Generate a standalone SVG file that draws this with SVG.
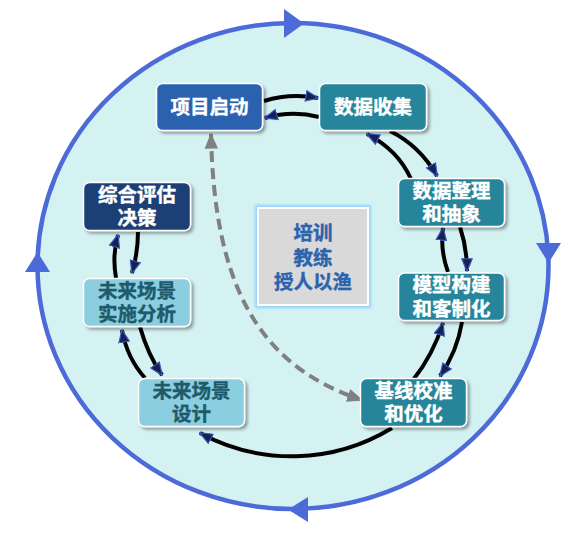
<svg xmlns="http://www.w3.org/2000/svg" width="588" height="533" viewBox="0 0 588 533">
<style>
.node rect{stroke:#ffffff;stroke-width:1.5}
.t{font-family:"Liberation Sans","Noto Sans CJK SC",sans-serif;font-weight:bold;font-size:19.5px;text-anchor:middle;stroke-width:0.4}
.w{fill:#ffffff;stroke:#ffffff}
.d{fill:#1F5A6C;stroke:#1F5A6C}
.c{fill:#2B63AE;stroke:#2B63AE}
.flow{fill:none;stroke:#000000;stroke-width:4;marker-end:url(#ah)}
.dash{fill:none;stroke:#808080;stroke-width:4;stroke-dasharray:11 6;marker-start:url(#gh);marker-end:url(#gh)}
</style>
<defs>
<filter id="sh" x="-10%" y="-10%" width="130%" height="140%">
<feDropShadow dx="2.5" dy="2.5" stdDeviation="1.5" flood-color="#000000" flood-opacity="0.35"/>
</filter>
<filter id="glow" x="-15%" y="-15%" width="130%" height="130%">
<feMorphology in="SourceAlpha" operator="dilate" radius="2" result="d"/>
<feGaussianBlur in="d" stdDeviation="1.5" result="b"/>
<feFlood flood-color="#8FD3FA"/>
<feComposite in2="b" operator="in" result="g"/>
<feMerge><feMergeNode in="g"/><feMergeNode in="SourceGraphic"/></feMerge>
</filter>
<marker id="ah" viewBox="0 0 12 10" refX="11" refY="5" markerWidth="14" markerHeight="12" markerUnits="userSpaceOnUse" orient="auto">
<path d="M0.5,0.5 L11.5,5 L0.5,9.5 z" fill="#16214F" stroke="#3D5BC4" stroke-width="1"/>
</marker>
<marker id="gh" viewBox="0 0 12 10" refX="11" refY="5" markerWidth="16" markerHeight="14" markerUnits="userSpaceOnUse" orient="auto-start-reverse">
<path d="M0,0 L12,5 L0,10 z" fill="#808080"/>
</marker>
</defs>
<g id="cycle">
<ellipse cx="293" cy="266" rx="255.5" ry="243" fill="#D5F2F3" stroke="#4C6BD8" stroke-width="4.5"/>
<path d="M284,9 L304,23.5 L284,38 z" fill="#4C6BD8"/>
<path d="M536,243 L561,243 L548.5,263 z" fill="#4C6BD8"/>
<path d="M25,272 L50,272 L37.5,252 z" fill="#4C6BD8"/>
<path d="M308,497 L308,522 L288,509.5 z" fill="#4C6BD8"/>
</g>
<g id="connectors">
<path class="flow" d="M264,101 Q290,93 318,98"/>
<path class="flow" d="M319,117 Q292,110 265,118"/>
<path class="flow" d="M390,131 Q420,146 437,176"/>
<path class="flow" d="M411,179 Q398,150 367,134"/>
<path class="flow" d="M448,272 Q440,250 443,228"/>
<path class="flow" d="M460,227 Q467,248 467,271"/>
<path class="flow" d="M413,380 Q433,355 443,323"/>
<path class="flow" d="M462,322 Q457,352 440,376"/>
<path class="flow" d="M392,428 A192,192 0 0 1 200,433"/>
<path class="flow" d="M145,378 Q127,358 122,330"/>
<path class="flow" d="M140,327 Q148,355 162,375"/>
<path class="flow" d="M116,278 Q112,255 118,235"/>
<path class="flow" d="M138,232 Q138,252 132,273"/>
<path class="dash" d="M211,134 C214,280 255,365 362,400"/>
</g>
<g id="center-box">
<rect x="258" y="208" width="110" height="97" fill="#D9D9D9" stroke="#ffffff" stroke-width="2" filter="url(#glow)"/>
<text class="t c" x="313" y="240">培训<tspan x="313" dy="24.5">教练</tspan><tspan x="313" dy="24.5">授人以渔</tspan></text>
</g>
<g id="node-start" class="node">
<rect x="156.5" y="83.5" width="106" height="47" rx="6" fill="#2962AF" filter="url(#sh)"/>
<text class="t w" x="209.5" y="114">项目启动</text>
</g>
<g id="node-collect" class="node">
<rect x="319.5" y="83.5" width="107" height="47" rx="6" fill="#25859A" filter="url(#sh)"/>
<text class="t w" x="373" y="114">数据收集</text>
</g>
<g id="node-organize" class="node">
<rect x="398.5" y="178.5" width="106" height="48" rx="6" fill="#25859A" filter="url(#sh)"/>
<text class="t w" x="451.5" y="197.5">数据整理<tspan x="451.5" dy="23.5">和抽象</tspan></text>
</g>
<g id="node-model" class="node">
<rect x="398.5" y="273" width="106" height="47.5" rx="6" fill="#25859A" filter="url(#sh)"/>
<text class="t w" x="451.5" y="292">模型构建<tspan x="451.5" dy="23.5">和客制化</tspan></text>
</g>
<g id="node-baseline" class="node">
<rect x="360.5" y="378.5" width="106" height="48" rx="6" fill="#25859A" filter="url(#sh)"/>
<text class="t w" x="413.5" y="397.5">基线校准<tspan x="413.5" dy="23.5">和优化</tspan></text>
</g>
<g id="node-design" class="node">
<rect x="138.5" y="378.5" width="106" height="48" rx="6" fill="#8BCEE0" filter="url(#sh)"/>
<text class="t d" x="191.5" y="397.5">未来场景<tspan x="191.5" dy="23.5">设计</tspan></text>
</g>
<g id="node-analysis" class="node">
<rect x="83.5" y="278.5" width="107" height="48" rx="6" fill="#8BCEE0" filter="url(#sh)"/>
<text class="t d" x="137" y="297.5">未来场景<tspan x="137" dy="23.5">实施分析</tspan></text>
</g>
<g id="node-decision" class="node">
<rect x="83.5" y="182.5" width="107" height="48" rx="6" fill="#1B3F74" filter="url(#sh)"/>
<text class="t w" x="137" y="201.5">综合评估<tspan x="137" dy="23.5">决策</tspan></text>
</g>
</svg>
